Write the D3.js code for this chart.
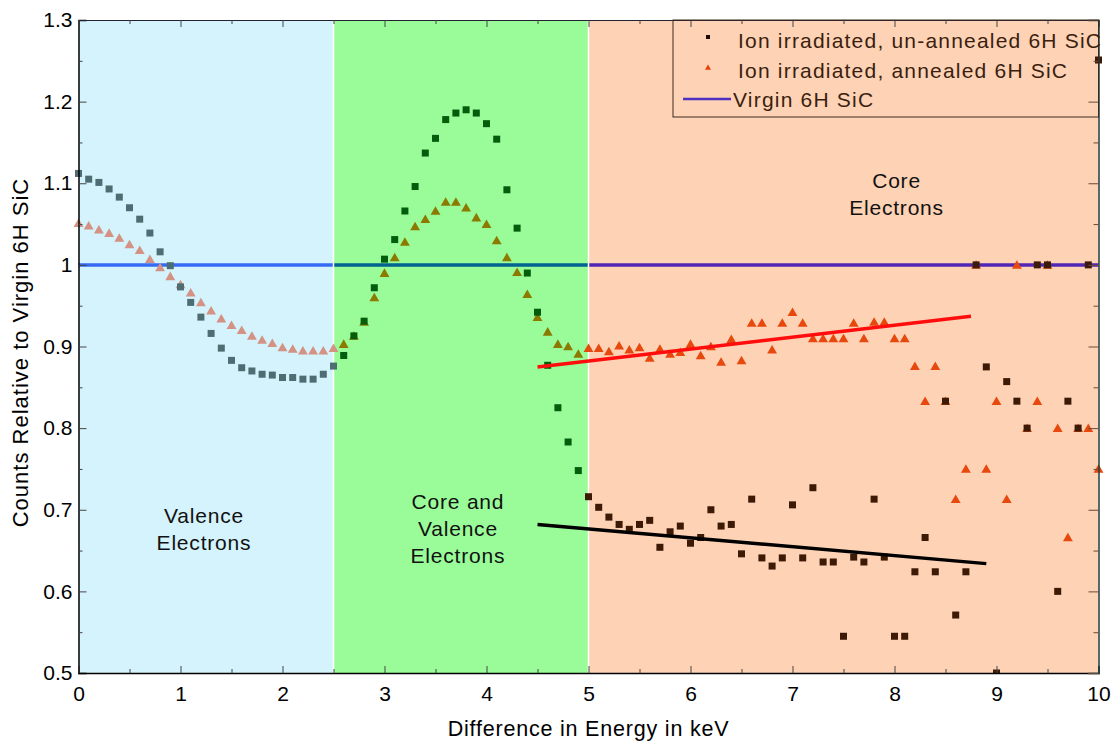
<!DOCTYPE html>
<style>
  body { margin: 0; background: #fff; }
  svg { font-family: Arial, "Liberation Sans", sans-serif; }
</style>
<svg width="1116" height="742"></svg>
<script src="https://d3js.org/d3.v7.min.js"></script>
<script>

// energy grid, keV
var energy = [0.0,0.1,0.2,0.3,0.4,0.5,0.6,0.7,0.8,0.9,1.0,1.1,1.2,1.3,1.4,1.5,1.6,1.7,1.8,1.9,
  2.0,2.1,2.2,2.3,2.4,2.5,2.6,2.7,2.8,2.9,3.0,3.1,3.2,3.3,3.4,3.5,3.6,3.7,3.8,3.9,
  4.0,4.1,4.2,4.3,4.4,4.5,4.6,4.7,4.8,4.9,5.0,5.1,5.2,5.3,5.4,5.5,5.6,5.7,5.8,5.9,
  6.0,6.1,6.2,6.3,6.4,6.5,6.6,6.7,6.8,6.9,7.0,7.1,7.2,7.3,7.4,7.5,7.6,7.7,7.8,7.9,
  8.0,8.1,8.2,8.3,8.4,8.5,8.6,8.7,8.8,8.9,9.0,9.1,9.2,9.3,9.4,9.5,9.6,9.7,9.8,9.9,10.0];

// ion irradiated, un-annealed (squares)
var unannealed = [1.112,1.105,1.101,1.093,1.083,1.070,1.056,1.039,1.016,0.999,
  0.973,0.954,0.936,0.916,0.898,0.883,0.874,0.870,0.866,0.865,
  0.862,0.862,0.860,0.860,0.866,0.876,0.889,0.913,0.931,0.972,
  1.007,1.031,1.066,1.096,1.137,1.155,1.178,1.186,1.190,1.186,
  1.173,1.154,1.092,1.045,0.990,0.942,0.877,0.825,0.783,0.748,
  0.716,0.703,0.691,0.682,0.676,0.682,0.687,0.654,0.673,0.680,
  0.659,0.666,0.700,0.680,0.682,0.646,0.713,0.641,0.631,0.641,
  0.706,0.641,0.727,0.636,0.636,0.545,0.642,0.636,0.713,0.642,
  0.545,0.545,0.624,0.666,0.624,0.833,0.571,0.624,1.000,0.875,
  0.500,0.857,0.833,0.800,1.000,1.000,0.600,0.833,0.800,1.000,1.251];

// ion irradiated, annealed (triangles)
var annealed = [1.051,1.048,1.043,1.039,1.033,1.025,1.018,1.007,0.997,0.986,
  0.976,0.966,0.954,0.944,0.934,0.926,0.920,0.913,0.908,0.904,
  0.899,0.897,0.895,0.895,0.895,0.898,0.903,0.913,0.930,0.960,
  0.990,1.009,1.028,1.047,1.056,1.066,1.077,1.077,1.070,1.058,
  1.050,1.030,1.009,0.991,0.964,0.936,0.918,0.903,0.900,0.891,
  0.898,0.898,0.894,0.901,0.896,0.899,0.886,0.897,0.891,0.893,
  0.903,0.889,0.900,0.881,0.909,0.883,0.929,0.929,0.896,0.929,
  0.942,0.929,0.910,0.910,0.910,0.910,0.929,0.910,0.930,0.930,
  0.910,0.910,0.876,0.833,0.876,0.833,0.713,0.750,1.000,0.750,
  0.833,0.713,1.000,0.800,0.833,1.000,0.800,0.666,0.800,0.800,0.750];

// linear fits drawn over the core region
var fitAnnealedX = [4.5, 8.75], fitAnnealedY = [0.875, 0.937];
var fitUnannealedX = [4.5, 8.9], fitUnannealedY = [0.682, 0.634];

// virgin reference
var virginLevel = 1;

// shaded regions
var regionStart = [0, 2.5, 5];
var regionEnd = [2.5, 5, 10];
var regionFill = ["#d5f3fc", "#99fc99", "#fed2b4"];
var regionSquare = ["#4e6d73", "#035d0c", "#3d1a06"];
var regionTriangle = ["#d39283", "#8c7900", "#e6480d"];
var regionVirgin = ["#356af5", "#00628f", "#5226b5"];
var regionLabels = [["Valence", "Electrons"], ["Core and", "Valence", "Electrons"], ["Core", "Electrons"]];
var regionLabelPos = [[1.23, 0.684], [3.72, 0.701], [8.02, 1.094]];

var xTicks = [0,1,2,3,4,5,6,7,8,9,10];
var yTicks = [0.5,0.6,0.7,0.8,0.9,1.0,1.1,1.2,1.3];

var legendNames = ["Ion irradiated, un-annealed 6H SiC", "Ion irradiated, annealed 6H SiC", "Virgin 6H SiC"];

var svg = d3.select("svg");
var pLeft = 78.5, pRight = 1098.5, pTop = 20, pBottom = 673;

var x = d3.scaleLinear().domain([0, 10]).range([pLeft, pRight]);
var y = d3.scaleLinear().domain([0.5, 1.3]).range([pBottom, pTop]);

function regionOf(e) {
  if (e <= 2.5) return 0;
  if (e < 5) return 1;
  return 2;
}

// backgrounds
svg.selectAll(".region")
  .data(regionStart)
  .enter().append("rect")
    .attr("x", function(d) { return x(d); })
    .attr("y", pTop)
    .attr("width", function(d, i) { return x(regionEnd[i]) - x(d); })
    .attr("height", pBottom - pTop)
    .attr("fill", function(d, i) { return regionFill[i]; });

// virgin line, tinted by region
svg.selectAll(".virgin")
  .data(regionStart)
  .enter().append("line")
    .attr("x1", function(d) { return x(d); })
    .attr("x2", function(d, i) { return x(regionEnd[i]); })
    .attr("y1", y(virginLevel))
    .attr("y2", y(virginLevel))
    .attr("stroke", function(d, i) { return regionVirgin[i]; })
    .attr("stroke-width", 3.5);

// boundaries
svg.selectAll(".bound")
  .data([2.5, 5])
  .enter().append("line")
    .attr("x1", function(d) { return x(d); })
    .attr("x2", function(d) { return x(d); })
    .attr("y1", pTop)
    .attr("y2", pBottom)
    .attr("stroke", "#fff")
    .attr("stroke-width", 1.5);

var pts = energy.map(function(e, i) { return {e: e, u: unannealed[i], a: annealed[i]}; });

var tri = d3.symbol().type(d3.symbolTriangle).size(42);

svg.selectAll(".tri")
  .data(pts)
  .enter().append("path")
    .attr("d", tri)
    .attr("transform", function(d) { return "translate(" + x(d.e) + "," + (y(d.a) + 1) + ")"; })
    .attr("fill", function(d) { return regionTriangle[regionOf(d.e)]; });

svg.selectAll(".sq")
  .data(pts)
  .enter().append("rect")
    .attr("x", function(d) { return x(d.e) - 3.5; })
    .attr("y", function(d) { return y(d.u) - 3.5; })
    .attr("width", 7)
    .attr("height", function(d) { return d.u <= 0.5 ? 3.5 : 7; })
    .attr("fill", function(d) { return regionSquare[regionOf(d.e)]; });

// fits
svg.append("line")
  .attr("x1", x(fitAnnealedX[0])).attr("y1", y(fitAnnealedY[0]))
  .attr("x2", x(fitAnnealedX[1])).attr("y2", y(fitAnnealedY[1]))
  .attr("stroke", "#ff0d0d").attr("stroke-width", 3.5);

svg.append("line")
  .attr("x1", x(fitUnannealedX[0])).attr("y1", y(fitUnannealedY[0]))
  .attr("x2", x(fitUnannealedX[1])).attr("y2", y(fitUnannealedY[1]))
  .attr("stroke", "#000").attr("stroke-width", 3.5);

// region labels
regionLabels.forEach(function(lines, i) {
  var t = svg.append("text")
    .attr("x", x(regionLabelPos[i][0]))
    .attr("y", y(regionLabelPos[i][1]))
    .attr("text-anchor", "middle")
    .style("font-size", "21px")
    .style("letter-spacing", "0.8px")
    .attr("fill", "#111");
  lines.forEach(function(s, k) {
    t.append("tspan").attr("x", x(regionLabelPos[i][0])).attr("dy", k ? 27 : 0).text(s);
  });
});

// axes
var fmt = function(d) { return String(+d.toFixed(1)); };

var yAxis = svg.append("g")
  .attr("transform", "translate(" + pLeft + ",0)")
  .call(d3.axisLeft(y).tickValues(yTicks).tickSize(-8).tickPadding(6).tickFormat(fmt));
yAxis.selectAll("text").style("font-size", "21px").attr("fill", "#000");
yAxis.select(".domain").attr("stroke", "#000").attr("stroke-width", 1.5);
yAxis.selectAll(".tick line").attr("stroke", "#444");

svg.append("g")
  .attr("transform", "translate(" + pLeft + ",0)")
  .call(d3.axisLeft(y).tickValues(d3.range(0.55, 1.3, 0.1)).tickSize(-4).tickFormat(""))
  .call(function(g) { g.select(".domain").remove(); g.selectAll("line").attr("stroke", "#444"); });

var xAxis = svg.append("g")
  .attr("transform", "translate(0," + pBottom + ")")
  .call(d3.axisBottom(x).tickValues(xTicks).tickSize(-7).tickFormat(d3.format("d")));
xAxis.selectAll("text").style("font-size", "21px").attr("fill", "#000").attr("y", 28).attr("dy", 0);
xAxis.select(".domain").attr("stroke", "#000").attr("stroke-width", 1.5);
xAxis.selectAll(".tick line").attr("stroke", "#444");

svg.append("g")
  .attr("transform", "translate(0," + pBottom + ")")
  .call(d3.axisBottom(x).tickValues(d3.range(0.5, 10, 1)).tickSize(-4).tickFormat(""))
  .call(function(g) { g.select(".domain").remove(); g.selectAll("line").attr("stroke", "#444"); });

// top and right frame
svg.append("g")
  .attr("transform", "translate(0," + pTop + ")")
  .call(d3.axisTop(x).tickValues(xTicks).tickSize(-7).tickFormat(""))
  .call(function(g) { g.select(".domain").attr("stroke", "#223"); g.selectAll("line").attr("stroke", "#444"); });
svg.append("g")
  .attr("transform", "translate(0," + pTop + ")")
  .call(d3.axisTop(x).tickValues(d3.range(0.5, 10, 1)).tickSize(-4).tickFormat(""))
  .call(function(g) { g.select(".domain").remove(); g.selectAll("line").attr("stroke", "#444"); });

svg.append("g")
  .attr("transform", "translate(" + pRight + ",0)")
  .call(d3.axisRight(y).tickValues(yTicks).tickSize(-10).tickFormat(""))
  .call(function(g) { g.select(".domain").attr("stroke", "#1c3c3c").attr("stroke-width", 1.5); g.selectAll("line").attr("stroke", "#6a4a3a"); });
svg.append("g")
  .attr("transform", "translate(" + pRight + ",0)")
  .call(d3.axisRight(y).tickValues(d3.range(0.55, 1.3, 0.1)).tickSize(-5).tickFormat(""))
  .call(function(g) { g.select(".domain").remove(); g.selectAll("line").attr("stroke", "#6a4a3a"); });

// axis titles
svg.append("text")
  .attr("x", (pLeft + pRight) / 2)
  .attr("y", 736)
  .attr("text-anchor", "middle")
  .style("font-size", "21.5px")
  .style("letter-spacing", "0.8px")
  .text("Difference in Energy in keV");

svg.append("text")
  .attr("transform", "translate(28," + ((pTop + pBottom) / 2 + 6) + ") rotate(-90)")
  .attr("text-anchor", "middle")
  .style("font-size", "22px")
  .style("letter-spacing", "1px")
  .text("Counts Relative to Virgin 6H SiC");

// legend
var legend = svg.append("g");
legend.append("rect")
  .attr("x", 673).attr("y", pTop)
  .attr("width", pRight - 673).attr("height", 97)
  .attr("fill", "none").attr("stroke", "#3a2a20").attr("stroke-width", 1);

legend.append("rect").attr("x", 706).attr("y", 35).attr("width", 4).attr("height", 4).attr("fill", "#1a0a00");
legend.append("path").attr("d", d3.symbol().type(d3.symbolTriangle).size(16))
  .attr("transform", "translate(708,68)").attr("fill", "#e8400c");
legend.append("line").attr("x1", 683).attr("x2", 731).attr("y1", 99).attr("y2", 99)
  .attr("stroke", "#5030c0").attr("stroke-width", 2.5);

legend.selectAll(".ltext")
  .data(legendNames)
  .enter().append("text")
    .attr("x", function(d, i) { return i < 2 ? 738 : 733; })
    .attr("y", function(d, i) { return 48 + i * 29.5; })
    .style("font-size", "21px")
    .style("letter-spacing", "1.2px")
    .attr("fill", "#3a1e10")
    .text(function(d) { return d; });

</script>
